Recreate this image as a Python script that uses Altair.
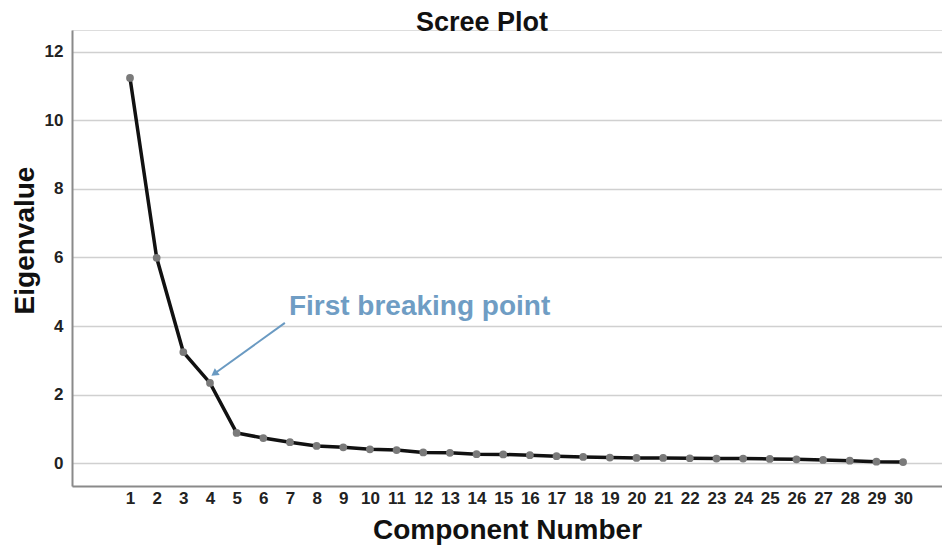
import altair as alt
import pandas as pd

components = list(range(1, 31))
eigenvalues = [11.24, 5.99, 3.24, 2.34, 0.88, 0.73, 0.61, 0.50, 0.46, 0.40,
               0.38, 0.31, 0.30, 0.26, 0.25, 0.23, 0.20, 0.18, 0.16, 0.15,
               0.15, 0.14, 0.13, 0.13, 0.12, 0.11, 0.09, 0.07, 0.04, 0.03]

y_ticks = [0, 2, 4, 6, 8, 10, 12]

annot_text = ["First breaking point"]
annot_x = [6.96]
annot_y = [4.55]
arrow_x = [6.81]
arrow_y = [4.09]
arrow_x2 = [4.2]
arrow_y2 = [2.63]

df = pd.DataFrame({"Component": components, "Eigenvalue": eigenvalues})
ann = pd.DataFrame({"label": annot_text, "x": annot_x, "y": annot_y})
arr = pd.DataFrame({"x": arrow_x, "y": arrow_y, "x2": arrow_x2, "y2": arrow_y2})

FONT = "Liberation Sans"
xscale = alt.Scale(domain=[-1.176, 31.46], nice=False, zero=False)
yscale = alt.Scale(domain=[-0.67, 12.64], nice=False, zero=False)

x_axis = alt.Axis(
    values=components, tickCount=len(components) + 5, format="d", grid=False, ticks=False,
    domainColor="#8a8a8a", domainWidth=2,
    labelFont=FONT, labelFontSize=17, labelFontWeight="bold", labelColor="#222222",
    labelPadding=4, labelFlush=False, labelOverlap=False, labelBound=False,
    title="Component Number", titleFont=FONT, titleFontSize=28, titleFontWeight="bold",
    titleColor="#111111", titleY=44, titleBaseline="middle",
)
y_axis = alt.Axis(
    values=y_ticks, tickCount=len(y_ticks) + 2, format="d", grid=True, gridColor="#d0d0d0",
    gridWidth=1.5, ticks=False, domainColor="#8a8a8a", domainWidth=2,
    labelFont=FONT, labelFontSize=17, labelFontWeight="bold", labelColor="#222222",
    labelPadding=9,
    title="Eigenvalue", titleFont=FONT, titleFontSize=28, titleFontWeight="bold",
    titleColor="#111111", titleAngle=-90, titleX=-47, titleY=210,
    titleBaseline="middle", titleAlign="center",
)

base = alt.Chart(df)
line = base.mark_line(color="#111111", strokeWidth=3.5).encode(
    x=alt.X("Component:Q", scale=xscale, axis=x_axis),
    y=alt.Y("Eigenvalue:Q", scale=yscale, axis=y_axis),
)
pts = base.mark_circle(color="#7a7a7a", size=60, opacity=1).encode(
    x=alt.X("Component:Q", scale=xscale),
    y=alt.Y("Eigenvalue:Q", scale=yscale),
)
arrow_line = alt.Chart(arr).mark_rule(color="#6a9ac2", strokeWidth=2).encode(
    x=alt.X("x:Q", scale=xscale), y=alt.Y("y:Q", scale=yscale),
    x2="x2:Q", y2="y2:Q",
)
arrow_head = alt.Chart(arr).mark_point(
    shape="triangle", filled=True, color="#6a9ac2", size=70, angle=234, opacity=1
).encode(
    x=alt.X("x2:Q", scale=xscale), y=alt.Y("y2:Q", scale=yscale),
)
text = alt.Chart(ann).mark_text(
    align="left", baseline="middle", font=FONT, fontSize=28, fontWeight="bold",
    color="#6f9dc4",
).encode(
    x=alt.X("x:Q", scale=xscale), y=alt.Y("y:Q", scale=yscale),
    text="label:N",
)

chart = alt.layer(line, arrow_line, arrow_head, pts, text).properties(
    width=870, height=456,
    title=alt.TitleParams("Scree Plot", font=FONT, fontSize=27, fontWeight="bold",
                          color="#111111", anchor="middle", dx=-25, offset=-7),
    autosize=alt.AutoSizeParams(type="none"),
    padding={"left": 64, "top": 22, "right": 0, "bottom": 59},
).configure_view(stroke=None).configure_axisX(labelOverlap=False).configure(background="white")

chart.save("out.html", embed_options={"renderer": "svg", "actions": False})
